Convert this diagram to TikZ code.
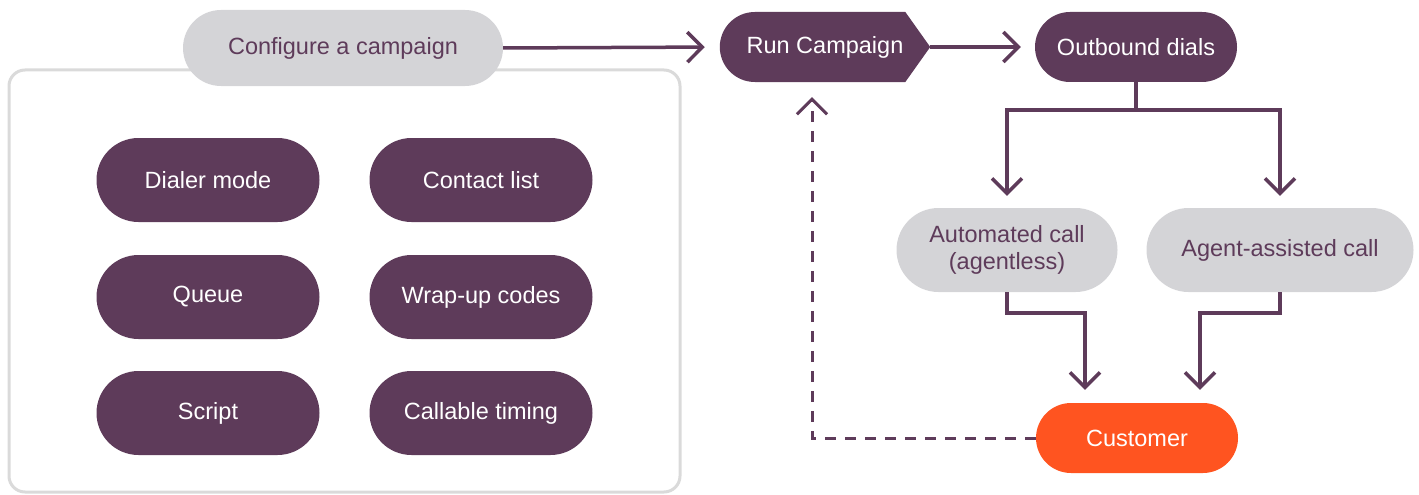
\documentclass[tikz,border=0pt]{standalone}
\usepackage{fontspec}
\setmainfont{Liberation Sans}
\usetikzlibrary{shapes.misc,arrows.meta}
\definecolor{plum}{HTML}{5E3B5A}
\definecolor{lgray}{HTML}{D4D4D7}
\definecolor{boxgray}{HTML}{DADADA}
\definecolor{orng}{HTML}{FF5420}
\pgfdeclarelayer{bg}
\pgfsetlayers{bg,main}
\begin{document}
\begin{tikzpicture}[x=1pt,y=-1pt,
 pill/.style={rounded rectangle, inner sep=0pt, font=\fontsize{23.5}{27}\selectfont, align=center},
 dark/.style={pill, fill=plum, text=white, minimum width=223pt, minimum height=84pt},
 light/.style={pill, fill=lgray, text=plum},
 conn/.style={draw=plum, line width=3.5pt, -{Straight Barb[length=15pt,width=30pt]}},
 dconn/.style={draw=plum, line width=3pt, dash pattern=on 11pt off 9pt, -{Straight Barb[length=15pt,width=30pt]}},
]
\useasboundingbox (0,0) rectangle (1419,495);
\draw[boxgray, line width=3pt, rounded corners=16pt] (9,70) rectangle (680,492);
\node[light, minimum width=320pt, minimum height=76pt] (cfg) at (343,48) {Configure a campaign};
\node[dark] (dial) at (208,180) {Dialer mode};
\node[dark] (contact) at (481,180) {Contact list};
\node[dark] (queue) at (208,297) {Queue};
\node[dark] (wrap) at (481,297) {Wrap-up codes};
\node[dark] (script) at (208,413) {Script};
\node[dark] (timing) at (481,413) {Callable timing};
\node[rectangle, inner sep=0pt, minimum width=210pt, minimum height=70pt, text=white, font=\fontsize{23.5}{27}\selectfont] (run) at (825,47) {Run Campaign};
\begin{pgfonlayer}{bg}
\fill[plum] ([xshift=35pt]run.west) circle[radius=35pt];
\fill[plum] ([xshift=35pt]run.north west) -- ([xshift=-25pt]run.north east) -- (run.east) -- ([xshift=-25pt]run.south east) -- ([xshift=35pt]run.south west) -- cycle;
\end{pgfonlayer}
\node[pill, fill=plum, text=white, minimum width=202pt, minimum height=70pt] (out) at (1136,47) {Outbound dials};
\node[light, minimum width=221pt, minimum height=84pt] (auto) at (1007,250) {Automated call\\(agentless)};
\node[light, minimum width=267pt, minimum height=84pt] (agent) at (1280,250) {Agent-assisted call};
\node[pill, fill=orng, text=white, minimum width=202pt, minimum height=70pt] (cust) at (1137,438) {Customer};
\draw[conn, shorten >=15pt] (cfg.east) -- (run.west);
\draw[conn, shorten >=14pt] (run.east) -- (out.west);
\draw[conn, shorten >=12pt] (out.south) -- ++(0,28) -| (auto.north);
\draw[conn, shorten >=12pt] (out.south) -- ++(0,28) -| (agent.north);
\draw[conn, shorten >=13pt] (auto.south) -- ++(0,21) -| ([xshift=-52pt]cust.north);
\draw[conn, shorten >=13pt] (agent.south) -- ++(0,21) -| ([xshift=63pt]cust.north);
\draw[dconn, shorten >=15pt] (cust.west) -| ([xshift=-13pt]run.south);
\end{tikzpicture}
\end{document}
